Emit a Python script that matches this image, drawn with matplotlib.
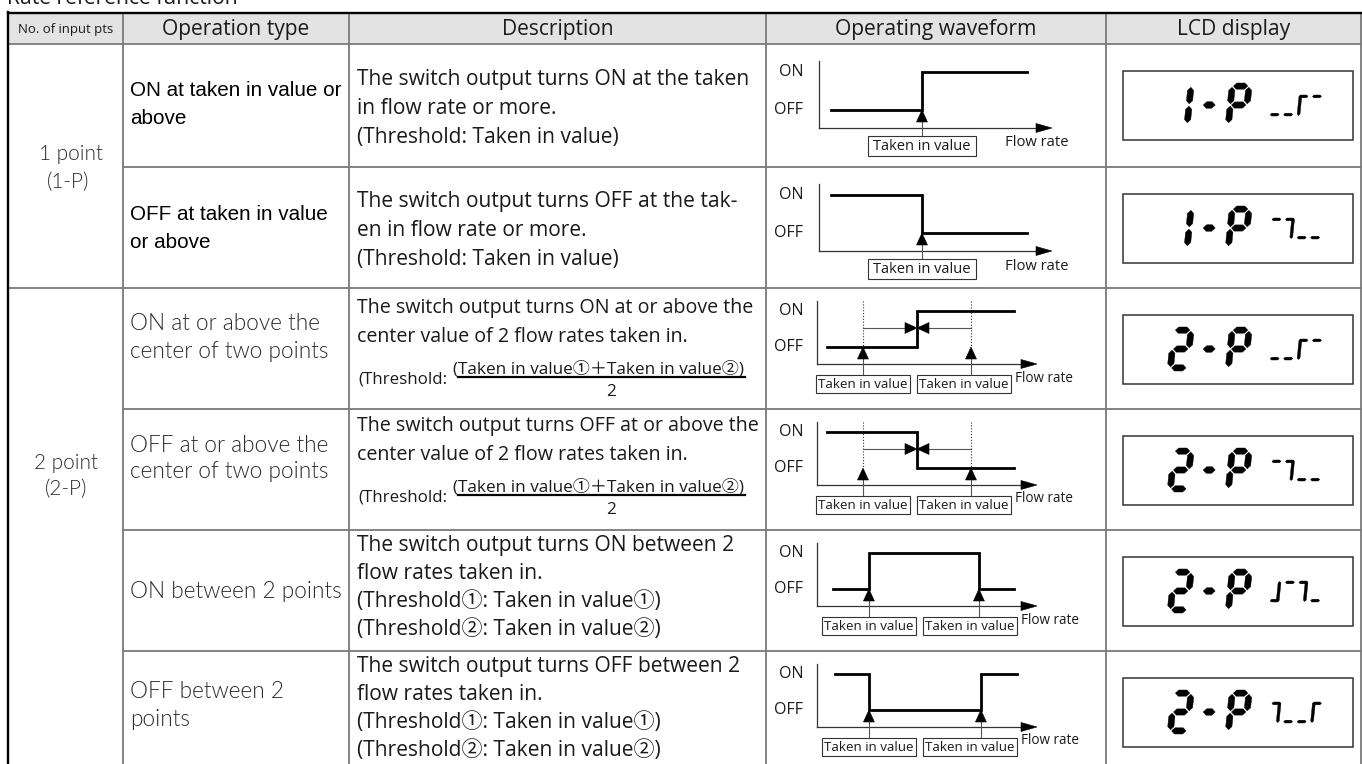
import matplotlib
matplotlib.use("Agg")
from matplotlib import pyplot as plt
from matplotlib.patches import Polygon, Rectangle
from matplotlib.font_manager import FontProperties

# ---- table content ----
title = "Rate reference function"
headers = ["No. of input pts", "Operation type", "Description",
           "Operating waveform", "LCD display"]
groups = [["1 point", "(1-P)"], ["2 point", "(2-P)"]]
op_types = [["ON at taken in value or", "above"],
            ["OFF at taken in value", "or above"],
            ["ON at or above the", "center of two points"],
            ["OFF at or above the", "center of two points"],
            ["ON between 2 points"],
            ["OFF between 2", "points"]]
descriptions = [
    ["The switch output turns ON at the taken", "in flow rate or more.",
     "(Threshold: Taken in value)"],
    ["The switch output turns OFF at the tak-", "en in flow rate or more.",
     "(Threshold: Taken in value)"],
    ["The switch output turns ON at or above the",
     "center value of 2 flow rates taken in."],
    ["The switch output turns OFF at or above the",
     "center value of 2 flow rates taken in."],
    ["The switch output turns ON between 2", "flow rates taken in.",
     "(Threshold\u2460: Taken in value\u2460)", "(Threshold\u2461: Taken in value\u2461)"],
    ["The switch output turns OFF between 2", "flow rates taken in.",
     "(Threshold\u2460: Taken in value\u2460)", "(Threshold\u2461: Taken in value\u2461)"],
]
formula = ["(Threshold:", "(Taken in value\u2460\uff0bTaken in value\u2461)", "2"]
label_on, label_off, label_flow, label_taken = "ON", "OFF", "Flow rate", "Taken in value"

# waveforms: position along flow-rate axis (0 = origin, 1 = arrow tip), level 1 = ON
wave_x = [[0.05, 0.442, 0.442, 0.893],
          [0.05, 0.442, 0.442, 0.893],
          [0.045, 0.455, 0.455, 0.895],
          [0.045, 0.455, 0.455, 0.895],
          [0.073, 0.236, 0.236, 0.736, 0.736, 0.895],
          [0.082, 0.236, 0.236, 0.745, 0.745, 0.909]]
wave_y = [[0, 0, 1, 1], [1, 1, 0, 0], [0, 0, 1, 1], [1, 1, 0, 0],
          [0, 0, 1, 1, 0, 0], [1, 1, 0, 0, 1, 1]]
taken_in = [[0.442], [0.442], [0.209, 0.70], [0.209, 0.70],
            [0.236, 0.736], [0.236, 0.745]]
lcd_main = ["1-P", "1-P", "2-P", "2-P", "2-P", "2-P"]
lcd_sub = [["d", "d", "la", "a"], ["a", "ar", "d", "d"],
           ["d", "d", "la", "a"], ["a", "ar", "d", "d"],
           ["dr", "a", "ar", "d"], ["ar", "d", "d", "la"]]

# ---- layout ----
W, H = 1362, 764
col_x = [8, 123, 349, 766, 1106, 1361]
row_y = [13, 44, 167, 288, 409, 530, 651, 764]
geo_1p = dict(x0=819, x1=1052, top=17, on=28, off=66, base=84, box=(92, 112), dx=16)
geo_2p = dict(x0=817, x1=1037, top=13, on=23, off=59, base=76, box=(87, 105), dx=14)
op_line_y = [[47, 74], [47, 76], [36, 63], [36, 63], [61], [40, 69]]
desc_base = [[41, 70, 99], [40, 69, 98], [25, 54], [22, 51],
             [21, 49, 77, 105], [21, 49, 77, 105]]
formula_base = [[95, 86, 89, 108], [92, 83, 86, 105]]

SANS = ["Open Sans", "Noto Sans CJK JP", "DejaVu Sans"]
ARIAL = ["Liberation Sans", "DejaVu Sans"]
LIGHT = ["Lato", "DejaVu Sans"]
LIGHT_W = 300
LINE = "#7a7a7a"
INK = "#1a1a1a"

fig = plt.figure(figsize=(W / 100, H / 100), dpi=100)
ax = fig.add_axes([0, 0, 1, 1])
ax.set_xlim(0, W)
ax.set_ylim(H, 0)
ax.axis("off")
renderer = fig.canvas.get_renderer()


def fit(text, family, width, weight="normal"):
    prop = FontProperties(family=family, weight=weight, size=10)
    w, _, _ = renderer.get_text_width_height_descent(text, prop, ismath=False)
    return 10.0 * width / w


def tri(tip, direction, length, half):
    x, y = tip
    if direction == "up":
        pts = [(x, y), (x - half, y + length), (x + half, y + length)]
    elif direction == "right":
        pts = [(x, y), (x - length, y - half), (x - length, y + half)]
    else:
        pts = [(x, y), (x + length, y - half), (x + length, y + half)]
    ax.add_patch(Polygon(pts, closed=True, fc="black", ec="black", lw=0.4, zorder=6))


def seg_poly(x0, y0, h, slant, pts):
    return Polygon([(x0 + u + slant * (h - v), y0 + v) for u, v in pts],
                   closed=True, fc="black", ec="black", lw=0.3, zorder=5)


def hseg(v, u1, u2, t):
    return [(u1, v), (u1 + t / 2, v - t / 2), (u2 - t / 2, v - t / 2), (u2, v),
            (u2 - t / 2, v + t / 2), (u1 + t / 2, v + t / 2)]


def vseg(u, v1, v2, t):
    return [(u, v1), (u + t / 2, v1 + t / 2), (u + t / 2, v2 - t / 2), (u, v2),
            (u - t / 2, v2 - t / 2), (u - t / 2, v1 + t / 2)]


def digit(x0, y0, ch, w=23, h=44, t=6.2, slant=0.1):
    gp = 1.2
    L, R, Tp, M, B = t / 2, w - t / 2, t / 2, h / 2, h - t / 2
    shapes = {"a": hseg(Tp, L + gp, R - gp, t), "g": hseg(M, L + gp, R - gp, t),
              "d": hseg(B, L + gp, R - gp, t), "f": vseg(L, Tp + gp, M - gp, t),
              "b": vseg(R, Tp + gp, M - gp, t), "e": vseg(L, M + gp, B - gp, t),
              "c": vseg(R, M + gp, B - gp, t)}
    if ch == "-":
        ax.add_patch(seg_poly(x0, y0, h, slant, hseg(M, 0, 12, 6.5)))
        return
    segs = {"1": "bc", "2": "abged", "P": "abfge"}[ch]
    for s in segs:
        ax.add_patch(seg_poly(x0, y0, h, slant, shapes[s]))


def mini(x0, y0, segs, w=9, h=21, t=2.8, slant=0.1):
    shapes = {"a": hseg(t / 2, 0, w, t), "d": hseg(h - t / 2, 0, w, t),
              "l": vseg(t / 2, 0.5, h - 0.5, t), "r": vseg(w - t / 2, 0.5, h - 0.5, t)}
    for s in segs:
        ax.add_patch(seg_poly(x0, y0, h, slant, shapes[s]))


# ---- font sizes fitted to the widths measured on the reference ----
fs_title = fit(title, SANS, 231)
fs_head = fit("Operation type", SANS, 148)
fs_head_small = fit(headers[0], SANS, 95)
fs_group = fit("1 point", LIGHT, 64, LIGHT_W)
fs_op_arial = fit(op_types[0][0], ARIAL, 212)
fs_op_light = fit(op_types[4][0], LIGHT, 212, LIGHT_W)
fs_desc = fit(descriptions[0][0], SANS, 394)
fs_desc2 = fit(descriptions[2][0], SANS, 396)
fs_thr = fit(formula[0], SANS, 88)
fs_num = fit(formula[1], SANS, 290)
fs_onoff = fit(label_off, SANS, 29)
fs_taken = [fit(label_taken, SANS, 98), fit(label_taken, SANS, 89)]
fs_flow = [fit(label_flow, SANS, 63), fit(label_flow, SANS, 58)]

# ---- title and table frame ----
ax.text(7, 4, title, fontsize=fs_title, family=SANS, color=INK, va="baseline")
ax.add_patch(Rectangle((col_x[0], row_y[0]), W - col_x[0], row_y[1] - row_y[0],
                       fc="#e3e3e3", ec="none", zorder=0))
for x in col_x[1:]:
    ax.plot([x, x], [row_y[0], H], color=LINE, lw=1.3, zorder=2)
ax.plot([col_x[0], col_x[0]], [row_y[0] - 0.8, H], color="black", lw=1.7, zorder=3)
ax.plot([col_x[0], W], [row_y[0], row_y[0]], color="black", lw=1.7, zorder=3)
ax.plot([col_x[0], W], [row_y[1], row_y[1]], color=LINE, lw=1.3, zorder=2)
for i, y in enumerate(row_y[2:-1]):
    x_start = col_x[0] if i + 1 == 2 else col_x[1]
    ax.plot([x_start, W], [y, y], color=LINE, lw=1.3, zorder=2)

yh = (row_y[0] + row_y[1]) / 2
for i, txt in enumerate(headers):
    xc = (col_x[i] + col_x[i + 1]) / 2
    ax.text(xc, yh + 1, txt, fontsize=fs_head_small if i == 0 else fs_head,
            family=SANS, color=INK, ha="center", va="center")

group_y = [[154, 182], [463, 489]]
group_x = [[71, 68], [66, 66]]
for g, lines in enumerate(groups):
    for k, txt in enumerate(lines):
        ax.text(group_x[g][k], group_y[g][k], txt, fontsize=fs_group, family=LIGHT,
                fontweight=LIGHT_W, color="#2a2a2a", ha="center", va="center")

# ---- rows ----
for r in range(6):
    T = row_y[r + 1]
    # operation type
    for k, txt in enumerate(op_types[r]):
        if r < 2:
            ax.text(130, T + op_line_y[r][k], txt, fontsize=fs_op_arial, family=ARIAL,
                    color="black", ha="left", va="center")
        else:
            ax.text(130, T + op_line_y[r][k], txt, fontsize=fs_op_light, family=LIGHT,
                    fontweight=LIGHT_W, color="#2a2a2a", ha="left", va="center")
    # description
    fs = fs_desc2 if r in (2, 3) else fs_desc
    for k, txt in enumerate(descriptions[r]):
        ax.text(357, T + desc_base[r][k], txt, fontsize=fs, family=SANS,
                color=INK, ha="left", va="baseline")
    if r in (2, 3):
        fb = formula_base[r - 2]
        ax.text(358, T + fb[0], formula[0], fontsize=fs_thr, family=SANS,
                color=INK, ha="left", va="baseline")
        ax.text(453, T + fb[1], formula[1], fontsize=fs_num, family=SANS,
                color=INK, ha="left", va="baseline")
        ax.plot([458, 745], [T + fb[2], T + fb[2]], color="black", lw=1.6)
        ax.text(611, T + fb[3], formula[2], fontsize=fs_num, family=SANS,
                color=INK, ha="center", va="baseline")

    # operating waveform
    g = geo_1p if r < 2 else geo_2p
    small = 0 if r < 2 else 1

    def px(u):
        return g["x0"] + u * (g["x1"] - g["x0"])

    def lev(v):
        return T + (g["on"] if v else g["off"])

    ax.plot([g["x0"], g["x0"]], [T + g["top"], T + g["base"]], color="#333333", lw=0.9)
    ax.plot([g["x0"], g["x1"] - 12], [T + g["base"]] * 2, color="#333333", lw=0.9)
    tri((g["x1"], T + g["base"]), "right", 16, 4.5)
    ax.text(g["x0"] - g["dx"], T + g["on"], label_on, fontsize=fs_onoff, family=SANS,
            color=INK, ha="right", va="center")
    ax.text(g["x0"] - g["dx"], T + g["off"], label_off, fontsize=fs_onoff, family=SANS,
            color=INK, ha="right", va="center")
    ax.plot([px(u) for u in wave_x[r]], [lev(v) for v in wave_y[r]], color="black",
            lw=2.0, solid_joinstyle="miter", zorder=4)

    b0, b1 = g["box"]
    box_right = 0
    for k, u in enumerate(taken_in[r]):
        xt = px(u)
        ax.plot([xt, xt], [T + b0, T + g["off"] + 10], color="#555555", lw=0.8, zorder=3)
        tri((xt, T + g["off"]), "up", 12, 5.5)
        bw = 108 if r < 2 else 94
        cx = xt if r < 2 else px(taken_in[r][0]) + k * 101
        ax.add_patch(Rectangle((cx - bw / 2, T + b0), bw, b1 - b0, fc="white",
                               ec="#333333", lw=0.8, zorder=4))
        ax.text(cx, (2 * T + b0 + b1) / 2 + 0.5, label_taken, fontsize=fs_taken[small],
                family=SANS, color=INK, ha="center", va="center", zorder=5)
        box_right = cx + bw / 2
    if r < 2:
        ax.text(1037, T + 99, label_flow, fontsize=fs_flow[0], family=SANS, color=INK,
                ha="center", va="center")
    else:
        ax.text(box_right + 4, T + 90, label_flow, fontsize=fs_flow[1], family=SANS,
                color=INK, ha="left", va="center")
    if r in (2, 3):
        ts = [px(u) for u in taken_in[r]]
        xc = (ts[0] + ts[1]) / 2
        ya = T + 40
        for xt in ts:
            ax.plot([xt, xt], [T + g["top"], T + g["off"]], color="#333333", lw=0.8,
                    ls=(0, (1, 1.6)))
        ax.plot([ts[0], xc - 10], [ya, ya], color="#555555", lw=0.8)
        ax.plot([ts[1], xc + 10], [ya, ya], color="#555555", lw=0.8)
        tri((xc, ya), "right", 12, 5.5)
        tri((xc, ya), "left", 12, 5.5)

    # LCD display
    bx, by = 1123, T + 27
    ax.add_patch(Rectangle((bx, by), 230, 69, fc="none", ec="#333333", lw=1.1, zorder=4))
    cells = [44, 78, 102]
    for ch, cx in zip(lcd_main[r], cells):
        digit(bx + cx, by + 12, ch)
    for k, segs in enumerate(lcd_sub[r]):
        mini(bx + 147 + k * 13.5, by + 24, segs)

fig.savefig("out.png", dpi=100)
